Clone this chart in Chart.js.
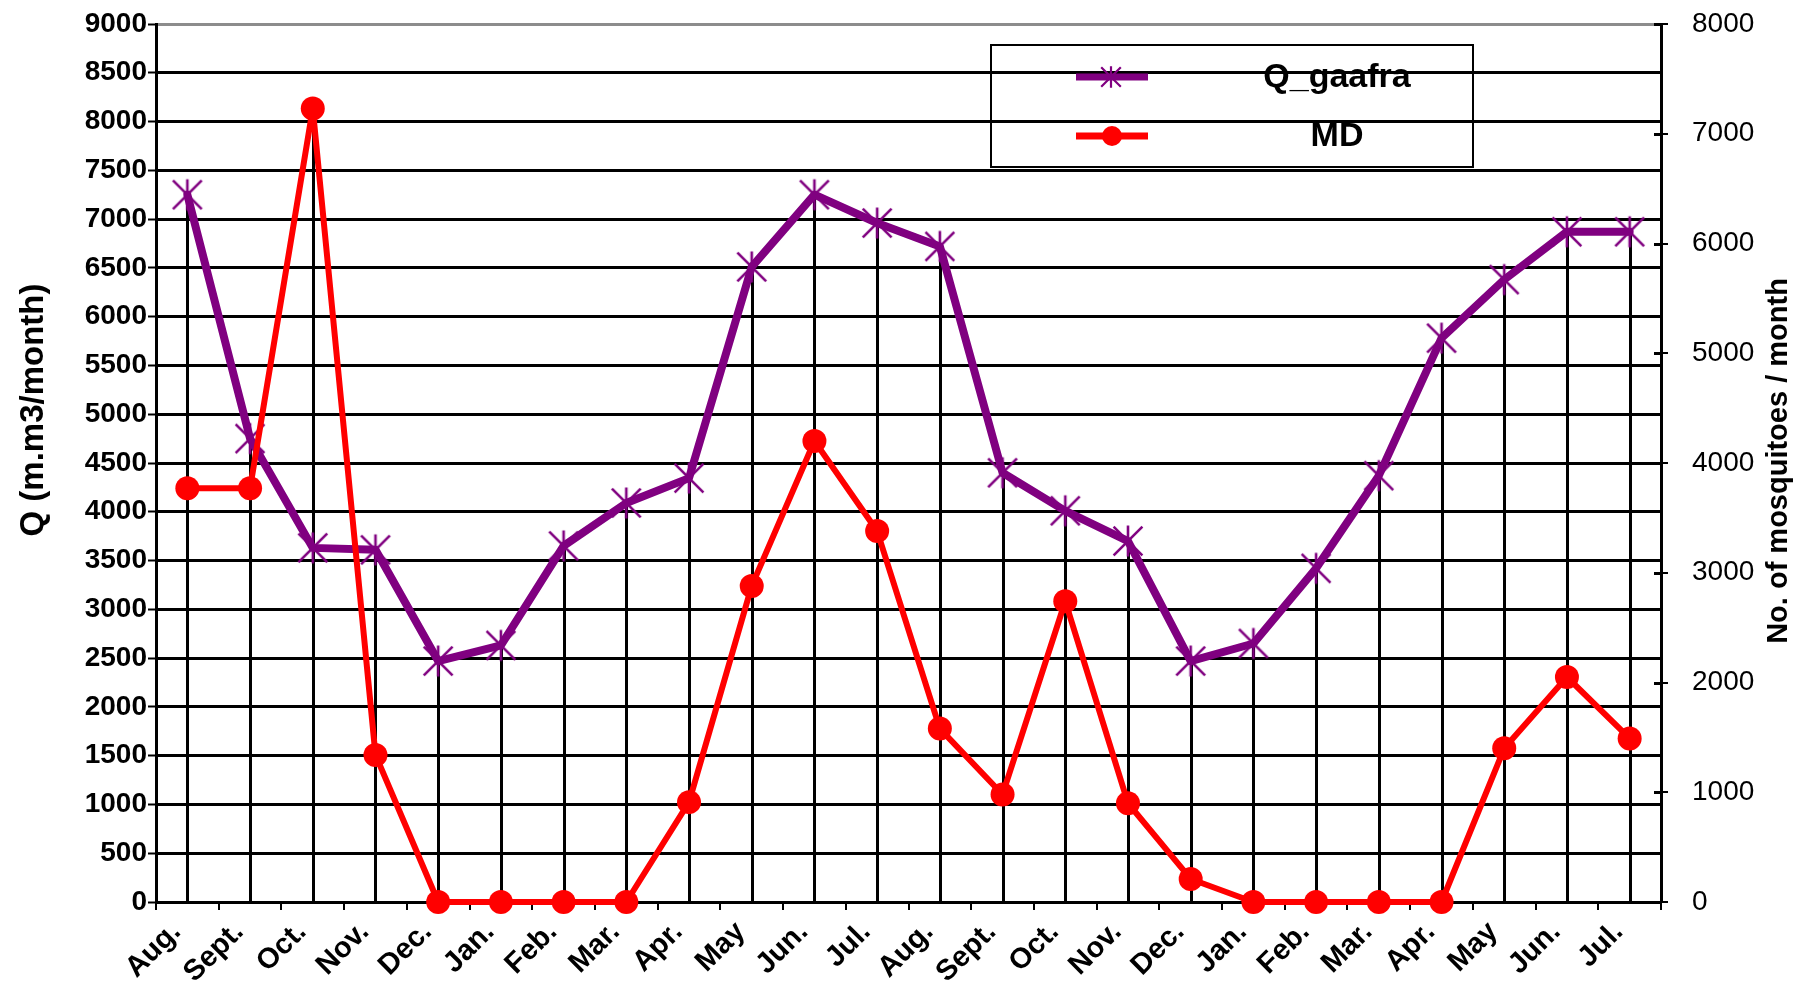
<!DOCTYPE html>
<html>
<head>
<meta charset="utf-8">
<script src="https://cdn.jsdelivr.net/npm/chart.js@4.4.1/dist/chart.umd.min.js"></script>
<style>
html,body{margin:0;padding:0;background:#ffffff;}
#wrap{width:1807px;height:985px;}
</style>
</head>
<body>
<div id="wrap"><canvas id="c" width="1807" height="985"></canvas></div>
<script>
// ---- data ----
const categories = ['Aug.','Sept.','Oct.','Nov.','Dec.','Jan.','Feb.','Mar.','Apr.','May','Jun.','Jul.',
                    'Aug.','Sept.','Oct.','Nov.','Dec.','Jan.','Feb.','Mar.','Apr.','May','Jun.','Jul.'];
const qGaafra = [7250, 4750, 3630, 3610, 2470, 2630, 3650, 4090, 4345, 6510, 7250, 6960,
                 6720, 4400, 4010, 3700, 2470, 2650, 3420, 4370, 5780, 6380, 6870, 6870];
const mdCounts = [3770, 3770, 7230, 1340, 0, 0, 0, 0, 910, 2880, 4200, 3380,
                  1580, 980, 2740, 900, 210, 0, 0, 0, 0, 1400, 2050, 1490];
const seriesNames = ['Q_gaafra', 'MD'];
const leftAxisTitle = 'Q (m.m3/month)';
const rightAxisTitle = 'No. of mosquitoes / month';
const leftMin = 0, leftMax = 9000, leftStep = 500;
const rightMin = 0, rightMax = 8000, rightStep = 1000;

const PURPLE = '#800080';
const RED = '#FF0000';

function asterisk(size, lw) {
  const c = document.createElement('canvas');
  c.width = size; c.height = size;
  const g = c.getContext('2d');
  g.strokeStyle = PURPLE; g.lineWidth = lw; g.lineCap = 'butt';
  const m = lw;
  g.beginPath();
  g.moveTo(m, m); g.lineTo(size - m, size - m);
  g.moveTo(size - m, m); g.lineTo(m, size - m);
  g.moveTo(size / 2, m - 1); g.lineTo(size / 2, size - m + 1);
  g.stroke();
  return c;
}
const starBig = asterisk(34, 2.6);
const starSmall = asterisk(24, 2.2);

const dropLines = {
  id: 'dropLines',
  beforeDatasetsDraw(chart) {
    const {ctx, scales} = chart;
    const x = scales.x, y = scales.y, y2 = scales.y2;
    ctx.save();
    ctx.strokeStyle = '#000'; ctx.lineWidth = 3;
    categories.forEach((c, i) => {
      const px = Math.round(x.getPixelForValue(i)) + 0.5;
      const top = Math.min(y.getPixelForValue(qGaafra[i]), y2.getPixelForValue(mdCounts[i]));
      ctx.beginPath(); ctx.moveTo(px, top); ctx.lineTo(px, y.bottom); ctx.stroke();
    });
    // inner half of right-axis ticks
    y2.ticks.forEach(t => {
      const py = Math.round(y2.getPixelForValue(t.value)) + 0.5;
      ctx.beginPath(); ctx.moveTo(y2.left - 7, py); ctx.lineTo(y2.left, py); ctx.stroke();
    });
    ctx.restore();
  }
};

const titlesAndLegend = {
  id: 'titlesAndLegend',
  afterDatasetsDraw(chart) {
    const ctx = chart.ctx;
    ctx.save();
    ctx.fillStyle = '#000';
    ctx.textAlign = 'center'; ctx.textBaseline = 'middle';
    // left title
    ctx.save();
    ctx.translate(34, 410); ctx.rotate(-Math.PI / 2);
    ctx.font = 'bold 33px "Liberation Sans", Arial, sans-serif';
    ctx.fillText(leftAxisTitle, 0, 0);
    ctx.restore();
    // right title
    ctx.save();
    ctx.translate(1779, 461); ctx.rotate(-Math.PI / 2);
    ctx.font = 'bold 29px "Liberation Sans", Arial, sans-serif';
    ctx.fillText(rightAxisTitle, 0, 0);
    ctx.restore();
    // legend
    ctx.strokeStyle = '#000'; ctx.lineWidth = 2;
    ctx.strokeRect(991, 45, 482, 122);
    const rows = [77, 136];
    chart.data.datasets.forEach((ds, i) => {
      const ry = rows[i];
      ctx.strokeStyle = ds.borderColor; ctx.lineWidth = 7;
      ctx.beginPath(); ctx.moveTo(1076, ry); ctx.lineTo(1148, ry); ctx.stroke();
      if (i === 0) {
        ctx.drawImage(starSmall, 1111 - 12, ry - 12);
      } else {
        ctx.fillStyle = ds.borderColor;
        ctx.beginPath(); ctx.arc(1112, ry, 10, 0, Math.PI * 2); ctx.fill();
      }
      ctx.fillStyle = '#000';
      ctx.font = 'bold 34px "Liberation Sans", Arial, sans-serif';
      ctx.fillText(ds.label, 1337, ry + 1);
    });
    ctx.restore();
  }
};

const plainNumber = v => String(v);

new Chart(document.getElementById('c'), {
  type: 'line',
  data: {
    labels: categories,
    datasets: [
      {
        label: seriesNames[0], data: qGaafra, yAxisID: 'y',
        borderColor: PURPLE, backgroundColor: PURPLE, borderWidth: 8,
        borderJoinStyle: 'round', borderCapStyle: 'round',
        pointStyle: starBig, pointRadius: 16, pointHoverRadius: 16,
        tension: 0, fill: false, order: 2, clip: false
      },
      {
        label: seriesNames[1], data: mdCounts, yAxisID: 'y2',
        borderColor: RED, backgroundColor: RED, borderWidth: 6,
        borderJoinStyle: 'round', borderCapStyle: 'round',
        pointStyle: 'circle', pointRadius: 12, pointHoverRadius: 12,
        pointBackgroundColor: RED, pointBorderColor: RED, pointBorderWidth: 0,
        tension: 0, fill: false, order: 1, clip: false
      }
    ]
  },
  options: {
    responsive: false,
    animation: false,
    devicePixelRatio: 1,
    layout: { padding: { top: 21, left: 0, right: 0, bottom: 0 } },
    plugins: { legend: { display: false }, tooltip: { enabled: false }, title: { display: false } },
    scales: {
      x: {
        type: 'category', offset: true,
        grid: { display: true, drawOnChartArea: false, drawTicks: true, tickLength: 8, color: '#000', lineWidth: 2, offset: true },
        border: { display: true, color: '#000', width: 3 },
        ticks: {
          autoSkip: false, maxRotation: 45, minRotation: 45, color: '#000',
          font: { family: 'Liberation Sans', weight: 'bold', size: 29 },
          padding: 5, labelOffset: -11
        },
        afterFit(s) { s.height = 83; s.paddingLeft = 0; s.paddingRight = 0; }
      },
      y: {
        position: 'left', min: leftMin, max: leftMax,
        ticks: { stepSize: leftStep, color: '#000', padding: 1, callback: plainNumber,
          font: { family: 'Liberation Sans', weight: 'bold', size: 28, lineHeight: 1 } },
        grid: { color: c => (c.tick && c.tick.value === leftMax) ? '#8c8c8c' : '#000', lineWidth: 3, tickLength: 8, tickColor: '#000', tickWidth: 2 },
        border: { display: true, color: '#000', width: 3 },
        afterFit(s) { s.width = 156; s.paddingTop = 0; s.paddingBottom = 0; }
      },
      y2: {
        position: 'right', min: rightMin, max: rightMax,
        ticks: { stepSize: rightStep, color: '#000', padding: 24, callback: plainNumber,
          font: { family: 'Liberation Sans', weight: 'normal', size: 28, lineHeight: 1 } },
        grid: { drawOnChartArea: false, tickLength: 7, color: '#000', lineWidth: 2 },
        border: { display: true, color: '#000', width: 3 },
        afterFit(s) { s.width = 146; s.paddingTop = 0; s.paddingBottom = 0; }
      }
    }
  },
  plugins: [dropLines, titlesAndLegend]
});
</script>
</body>
</html>
